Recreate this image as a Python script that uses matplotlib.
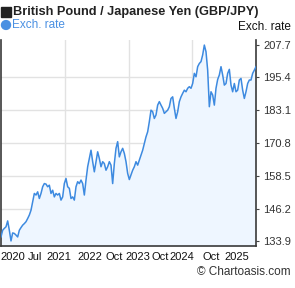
import numpy as np
import pandas as pd
import matplotlib
matplotlib.use('Agg')
import matplotlib.pyplot as plt
from matplotlib.patches import Rectangle

plt.rcParams['font.family'] = ['Liberation Sans', 'DejaVu Sans']

# GBP/JPY, roughly one reading every 12 days (Jul 2020 - Jul 2025)
start_date = '2020-07-16'
step = '12D'
rate = [
    135.6, 138.1, 138.8, 139.4, 141.6, 138.1, 134.1, 137.1, 136.9, 136.3,
    135.6, 138.1, 139.1, 140.0, 140.6, 141.3, 142.5, 143.8, 145.6, 148.8,
    151.9, 151.3, 152.5, 150.0, 151.9, 154.4, 155.6, 155.4, 154.4, 155.0,
    151.9, 153.1, 150.6, 151.9, 151.3, 151.9, 149.4, 150.6, 155.6, 157.5,
    154.4, 153.8, 150.0, 150.6, 149.4, 154.4, 156.3, 155.6, 156.9, 155.6,
    151.3, 156.9, 161.9, 165.0, 168.1, 163.8, 160.0, 163.8, 167.5, 165.0,
    161.9, 163.8, 163.1, 160.6, 161.9, 163.8, 162.5, 155.6, 163.1, 168.8,
    171.3, 165.6, 167.5, 168.8, 166.9, 163.8, 159.4, 157.1, 158.8, 160.6,
    161.9, 163.8, 162.5, 164.4, 166.3, 168.1, 170.6, 173.1, 175.0, 178.8,
    183.1, 182.5, 180.0, 181.3, 185.0, 186.3, 185.0, 183.8, 181.9, 182.5,
    183.1, 184.4, 187.5, 188.1, 183.8, 180.0, 182.5, 186.3, 188.1, 189.4,
    190.6, 190.0, 191.3, 191.9, 191.3, 193.1, 196.9, 195.6, 199.4, 200.6,
    201.3, 203.8, 207.5, 205.0, 198.1, 184.4, 190.0, 188.8, 185.0, 191.3,
    194.6, 196.3, 199.4, 196.3, 192.5, 193.1, 196.9, 198.4, 192.5, 190.0,
    193.1, 190.0, 190.6, 194.4, 195.0, 190.6, 187.5, 190.0, 193.1, 194.4,
    194.4, 196.9, 198.1, 199.4,
]
dates = pd.date_range(start_date, periods=len(rate), freq=step)

y_ticks = [133.9, 146.2, 158.5, 170.8, 183.1, 195.4, 207.7]
x_labels = ['2020', 'Jul', '2021', '2022', 'Oct', '2023', 'Oct', '2024', 'Oct', '2025']
x_label_dates = ['2020-10-06', '2021-03-21', '2021-09-03', '2022-04-14', '2022-10-11',
                 '2023-03-26', '2023-09-04', '2024-02-06', '2024-09-09', '2025-03-08']

line_col = '#3d8ae0'
fill_col = '#eef6ff'
grid_col = '#e2e2e2'

fig = plt.figure(figsize=(2.95, 2.88), dpi=100)
ax = fig.add_axes([1 / 295, 1 - 246 / 288, 255 / 295, 206 / 288])

ax.fill_between(dates, rate, 100, color=fill_col, lw=0, zorder=1)
ax.plot(dates, rate, color=line_col, lw=1.1, zorder=3)

ax.set_xlim(dates[0], dates[-1])
ax.set_ylim(132.2, 209.4)

# grid sits behind the fill, vertical lines at quarters of the range
span = dates[-1] - dates[0]
for q in (0.25, 0.5, 0.75):
    ax.axvline(dates[0] + span * q, color=grid_col, lw=1.0, zorder=0)
for v in y_ticks[1:-1]:
    ax.axhline(v, color=grid_col, lw=1.0, zorder=0)

ax.yaxis.tick_right()
ax.set_yticks(y_ticks)
ax.set_yticklabels([f'{v:.1f}' for v in y_ticks])
ax.tick_params(axis='y', length=2, width=0.8, color='#444444', pad=3,
               labelsize=8, labelcolor='#333333')

ax.set_xticks(pd.to_datetime(x_label_dates))
ax.set_xticklabels(x_labels)
ax.tick_params(axis='x', length=0, pad=4, labelsize=8, labelcolor='#111111')

ax.spines['top'].set_visible(False)
for s in ('left', 'bottom', 'right'):
    ax.spines[s].set_color('#3a3a3a')
    ax.spines[s].set_linewidth(1.2)

# header
fig.patches.append(Rectangle((1 / 295, 1 - 17 / 288), 10 / 295, 10 / 288,
                             transform=fig.transFigure, color='#222222'))
fig.text(13 / 295, 1 - 12 / 288, 'British Pound / Japanese Yen (GBP/JPY)',
         fontsize=9.2, fontweight='bold', color='#222222', va='center')
fig.patches.append(plt.Circle((6 / 295, 1 - 25 / 288), 4.5 / 295,
                              transform=fig.transFigure, color='#4a90e2'))
fig.text(12 / 295, 1 - 25 / 288, 'Exch. rate', fontsize=8.5, color='#4a90e2', va='center')
fig.text(291 / 295, 1 - 27 / 288, 'Exch. rate', fontsize=8.5, color='#111111',
         va='center', ha='right')
fig.text(291 / 295, 1 - 272 / 288, '© Chartoasis.com', fontsize=8.5, color='#333333',
         va='center', ha='right')

fig.savefig('out.png', dpi=100)
